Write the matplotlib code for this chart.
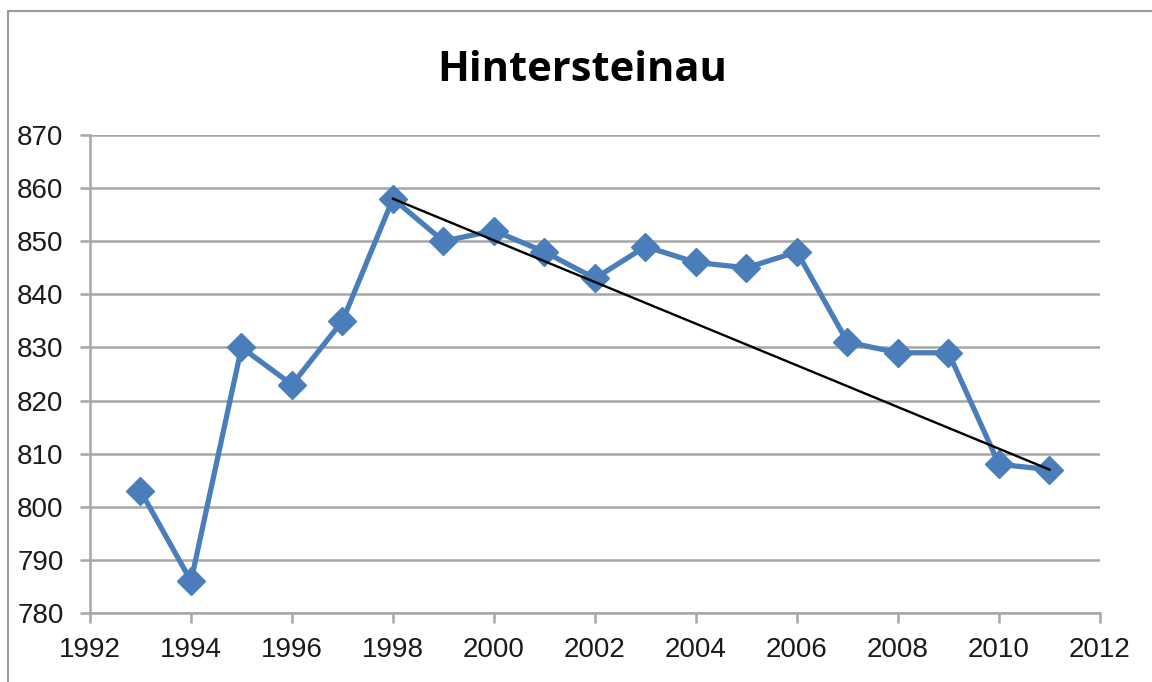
import matplotlib.pyplot as plt
from matplotlib.patches import Rectangle

years = [1993, 1994, 1995, 1996, 1997, 1998, 1999, 2000, 2001, 2002,
         2003, 2004, 2005, 2006, 2007, 2008, 2009, 2010, 2011]
values = [803, 786, 830, 823, 835, 858, 850, 852, 848, 843,
          849, 846, 845, 848, 831, 829, 829, 808, 807]

# trend line drawn from the 1998 point to the last point
trend_start = 1998
trend_end = 2011

x_ticks = list(range(1992, 2013, 2))
y_ticks = list(range(780, 871, 10))

plt.rcParams['font.family'] = ['Liberation Sans', 'DejaVu Sans']

fig = plt.figure(figsize=(11.52, 6.82), dpi=100)
ax = fig.add_axes([90 / 1152, 1 - 613 / 682, 1010 / 1152, 478 / 682])

# outer chart frame
fig.patches.append(Rectangle((8 / 1152, -0.01), 1.2, 1 - 11 / 682 + 0.01,
                             transform=fig.transFigure, fill=False,
                             edgecolor='#9a9a9a', linewidth=1.5))

ax.plot(years, values, color='#4a7ebb', linewidth=3.8, marker='D',
        markersize=14, markerfacecolor='#4a7ebb', markeredgecolor='#4a7ebb',
        zorder=3)

i0 = years.index(trend_start)
i1 = years.index(trend_end)
ax.plot([years[i0], years[i1]], [values[i0], values[i1]], color='black',
        linewidth=1.7, zorder=4)

ax.set_xlim(1992, 2012)
ax.set_ylim(780, 870)
ax.set_xticks(x_ticks)
ax.set_yticks(y_ticks)
ax.grid(axis='y', color='#a6a6a6', linewidth=1.8)
ax.set_axisbelow(True)

for side in ['top', 'right']:
    ax.spines[side].set_visible(False)
for side in ['left', 'bottom']:
    ax.spines[side].set_color('#a6a6a6')
    ax.spines[side].set_linewidth(1.8)

ax.tick_params(axis='both', direction='out', length=7, width=1.8,
               color='#a6a6a6', labelsize=20, labelcolor='#1a1a1a')
ax.tick_params(axis='y', pad=12)
ax.tick_params(axis='x', pad=10)

fig.text(0.505, 0.897, 'Hintersteinau', ha='center', va='center',
         fontsize=30, fontweight='bold', family=['Open Sans', 'DejaVu Sans'])

fig.savefig('out.png', dpi=100)
